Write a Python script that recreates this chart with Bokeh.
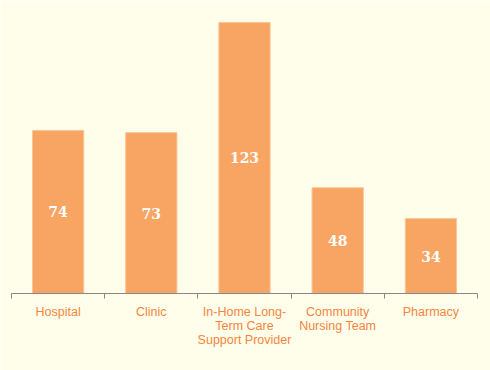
from bokeh.plotting import figure
from bokeh.models import ColumnDataSource, Range1d, FixedTicker
from bokeh.core.properties import value
from bokeh.embed import file_html
from bokeh.resources import INLINE

categories = ["Hospital", "Clinic", "In-Home Long-\nTerm Care\nSupport Provider", "Community\nNursing Team", "Pharmacy"]
values = [74, 73, 123, 48, 34]

xs = list(range(len(categories)))
src = ColumnDataSource(dict(x=xs, top=values, mid=[v / 2 for v in values], lab=[str(v) for v in values]))

p = figure(width=490, height=370, output_backend="svg", toolbar_location=None,
           x_range=Range1d(-0.5, len(categories) - 0.5), y_range=Range1d(0, 124.8),
           min_border_left=11, min_border_right=13, min_border_top=18, min_border_bottom=77)
p.background_fill_color = "#fffeea"
p.border_fill_color = "#fffeea"
p.outline_line_color = None
p.grid.visible = False
p.yaxis.visible = False

p.vbar(x="x", top="top", width=0.55, source=src, fill_color="#f8a563", line_color="#fbc594", line_width=1)
p.text(x="x", y="mid", text="lab", source=src, text_align="center", text_baseline="middle",
       text_color="white", text_font=value("DejaVu Serif"), text_font_style="bold", text_font_size="14px")

ax = p.xaxis[0]
ax.ticker = FixedTicker(ticks=xs, minor_ticks=[i - 0.5 for i in range(len(categories) + 1)])
ax.major_label_overrides = {i: c for i, c in enumerate(categories)}
ax.major_tick_line_color = None
ax.minor_tick_line_color = "#888888"
ax.minor_tick_out = 5
ax.minor_tick_in = 0
ax.axis_line_color = "#888888"
ax.major_label_text_color = "#f5853f"
ax.major_label_text_font = "Liberation Sans"
ax.major_label_text_font_size = "12.5px"
ax.major_label_text_line_height = 1.0
ax.major_label_standoff = 5

open("out.html", "w").write(file_html(p, INLINE))
